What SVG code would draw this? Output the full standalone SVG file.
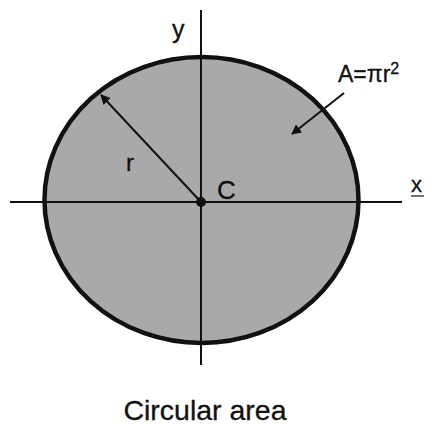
<svg xmlns="http://www.w3.org/2000/svg" width="428" height="425" viewBox="0 0 428 425">
<style>
text{font-family:"Liberation Sans",Arial,sans-serif;fill:#111;stroke:#111;stroke-width:0.3}
.ax{stroke:#111;stroke-width:2;fill:none}
.ar{stroke:#111;stroke-width:2;fill:none}
</style>
<defs>
<marker id="ah" viewBox="0 0 10 10" refX="9" refY="5" markerWidth="5" markerHeight="5" orient="auto" markerUnits="strokeWidth">
<path d="M0,0 L10,5 L0,10 z" fill="#111"/>
</marker>
</defs>
<rect width="428" height="425" fill="#fff"/>
<g id="circle">
<ellipse cx="201.5" cy="200" rx="157" ry="143" fill="#a9a9a9" stroke="#111" stroke-width="4.5"/>
</g>
<g id="axes">
<line class="ax" x1="201" y1="10" x2="201" y2="365"/>
<line class="ax" x1="10" y1="202" x2="402" y2="202"/>
</g>
<g id="connectors">
<line class="ar" x1="201" y1="202" x2="101" y2="95" marker-end="url(#ah)"/>
<line class="ar" x1="344" y1="93" x2="292" y2="134" marker-end="url(#ah)"/>
</g>
<g id="centroid">
<circle cx="201" cy="202" r="5" fill="#111"/>
<text x="217" y="199" font-size="26">C</text>
</g>
<g id="labels">
<text x="172" y="38" font-size="25">y</text>
<text x="126" y="171" font-size="24">r</text>
<text x="338" y="82" font-size="23">A=πr<tspan font-size="16" dy="-8">2</tspan></text>
<text x="411" y="192" font-size="22">x</text>
<line x1="411" y1="196" x2="424" y2="196" stroke="#111" stroke-width="1.2"/>
<text x="205" y="420" font-size="28.5" text-anchor="middle">Circular area</text>
</g>
</svg>
